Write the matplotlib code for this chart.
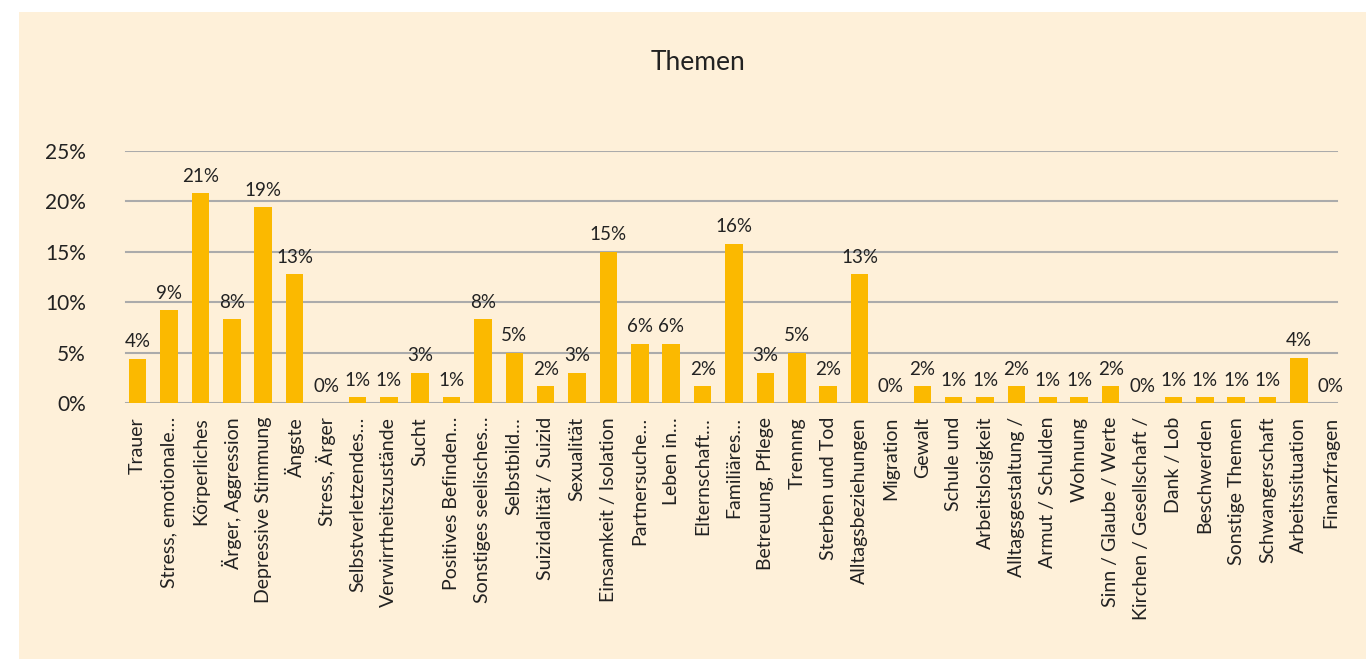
import matplotlib
matplotlib.use("Agg")
import matplotlib.pyplot as plt
from matplotlib.patches import Rectangle

# category labels (as shown, truncated ones keep their ellipsis)
themes = [
    "Trauer", "Stress, emotionale…", "Körperliches", "Ärger, Aggression",
    "Depressive Stimmung", "Ängste", "Stress, Ärger", "Selbstverletzendes…",
    "Verwirrtheitszustände", "Sucht", "Positives Befinden…", "Sonstiges seelisches…",
    "Selbstbild…", "Suizidalität / Suizid", "Sexualität", "Einsamkeit / Isolation",
    "Partnersuche…", "Leben in…", "Elternschaft…", "Familiäres…",
    "Betreuung, Pflege", "Trennng", "Sterben und Tod", "Alltagsbeziehungen",
    "Migration", "Gewalt", "Schule und", "Arbeitslosigkeit",
    "Alltagsgestaltung /", "Armut / Schulden", "Wohnung", "Sinn / Glaube / Werte",
    "Kirchen / Gesellschaft /", "Dank / Lob", "Beschwerden", "Sonstige Themen",
    "Schwangerschaft", "Arbeitssituation", "Finanzfragen",
]

# share in percent
shares = [
    4.4, 9.2, 20.8, 8.3,
    19.4, 12.8, 0.0, 0.6,
    0.6, 3.0, 0.6, 8.3,
    5.0, 1.7, 3.0, 15.0,
    5.9, 5.9, 1.7, 15.8,
    3.0, 5.0, 1.7, 12.8,
    0.0, 1.7, 0.6, 0.6,
    1.7, 0.6, 0.6, 1.7,
    0.0, 0.6, 0.6, 0.6,
    0.6, 4.5, 0.0,
]

yticks = [0, 5, 10, 15, 20, 25]

BAR = "#FBB900"
CREAM = "#FEF0D9"
TEXT = "#222222"
GRID = "#ABABAB"

plt.rcParams["font.family"] = ["Lato", "DejaVu Sans"]

W, H = 1366, 659
fig = plt.figure(figsize=(W / 100, H / 100), dpi=100, facecolor="white")
fig.patches.append(Rectangle((19 / W, 0), 1 - 19 / W, (H - 12) / H,
                             transform=fig.transFigure, facecolor=CREAM,
                             edgecolor="none", zorder=-10))

ax = fig.add_axes([122 / W, (H - 403) / H, 1224 / W, 252 / H])
ax.set_facecolor("none")

x = range(len(themes))
ax.bar(x, shares, width=0.56, color=BAR, zorder=3)

for xi, v in zip(x, shares):
    ax.annotate(f"{round(v):.0f}%", (xi, v), xytext=(0, 6), textcoords="offset points",
                ha="center", va="bottom", fontsize=13.5, color=TEXT, zorder=4)

ax.set_xlim(-0.5, len(themes) - 0.5)
ax.set_ylim(0, 25)
for t in yticks:
    ax.axhline(t, xmin=4 / 1224, xmax=1215 / 1224, color=GRID, lw=1.5, zorder=1)

ax.set_yticks(yticks)
ax.set_yticklabels([f"{t}%" for t in yticks], fontsize=15, color=TEXT)
ax.set_xticks(list(x))
ax.set_xticklabels(themes, rotation=90, fontsize=14, color=TEXT, va="top", ha="center")
ax.tick_params(axis="both", length=0)
ax.tick_params(axis="x", pad=10)
ax.tick_params(axis="y", pad=26)
for s in ax.spines.values():
    s.set_visible(False)

fig.text(698 / W, (H - 63) / H, "Themen", ha="center", va="center", fontsize=19, color=TEXT)

fig.savefig("out.png", dpi=100, facecolor=fig.get_facecolor())
